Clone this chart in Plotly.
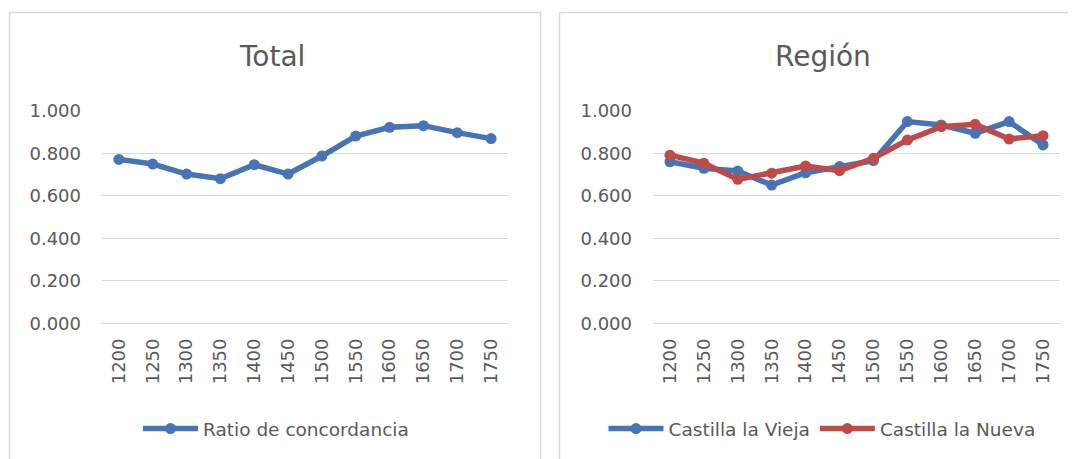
import plotly.graph_objects as go

W, H = 1076, 459
OFF = 8  # page body margin offsets the figure in the screenshot

years = ["1200", "1250", "1300", "1350", "1400", "1450",
         "1500", "1550", "1600", "1650", "1700", "1750"]
total = [0.772, 0.750, 0.703, 0.681, 0.747, 0.703,
         0.788, 0.882, 0.923, 0.931, 0.898, 0.870]
vieja = [0.761, 0.730, 0.717, 0.651, 0.709, 0.738,
         0.766, 0.950, 0.934, 0.895, 0.950, 0.840]
nueva = [0.792, 0.754, 0.678, 0.707, 0.741, 0.719,
         0.777, 0.863, 0.926, 0.937, 0.868, 0.884]

BLUE = "#4674B6"
RED = "#BE4B48"
GRID = "#d9d9d9"
TXT = "#595959"
FONT = "DejaVu Sans"


def px(x):
    return (x - OFF) / W


def py(y):
    return 1 - (y - OFF) / H


def series(x, y, name, color, xa, ya, legend):
    return go.Scatter(
        x=x, y=y, name=name, mode="lines+markers",
        xaxis=xa, yaxis=ya, legend=legend,
        line={"color": color, "width": 5.5},
        marker={"color": color, "size": 11},
    )


fig = go.Figure()
fig.add_trace(series(years, total, "Ratio de concordancia", BLUE, "x", "y", "legend"))
fig.add_trace(series(years, vieja, "Castilla la Vieja", BLUE, "x2", "y2", "legend2"))
fig.add_trace(series(years, nueva, "Castilla la Nueva", RED, "x2", "y2", "legend2"))

xcommon = dict(
    type="category", range=[-0.5, len(years) - 0.5], tickangle=-90,
    showgrid=False, showline=True, linecolor=GRID, linewidth=1, ticks="",
    ticklabelstandoff=7, tickfont={"family": FONT, "size": 18, "color": TXT},
    fixedrange=True, automargin=False,
)
ycommon = dict(
    range=[0, 1], dtick=0.2, tickformat=".3f", showgrid=True, gridcolor=GRID,
    gridwidth=1, zeroline=False, showline=False, ticks="", ticklabelstandoff=20,
    tickfont={"family": FONT, "size": 18, "color": TXT}, fixedrange=True,
    domain=[py(323.3), py(111)], automargin=False,
)

legend_style = dict(
    orientation="h", xanchor="center", yanchor="middle", y=py(429),
    font={"family": FONT, "size": 18.5, "color": TXT},
    bgcolor="rgba(0,0,0,0)", itemwidth=55, tracegroupgap=0,
)

fig.update_layout(
    width=W, height=H, autosize=False,
    margin={"l": 0, "r": 0, "t": 0, "b": 0, "pad": 0, "autoexpand": False},
    paper_bgcolor="white", plot_bgcolor="white",
    xaxis=dict(xcommon, domain=[px(102), px(508)], anchor="y"),
    yaxis=dict(ycommon, anchor="x"),
    xaxis2=dict(xcommon, domain=[px(653), px(1060)], anchor="y2"),
    yaxis2=dict(ycommon, anchor="x2"),
    legend=dict(legend_style, x=px(276)),
    legend2=dict(legend_style, x=px(822)),
    showlegend=True,
    shapes=[
        dict(type="rect", xref="paper", yref="paper",
             x0=px(9.5), x1=px(540.5), y0=-0.2, y1=py(12.5),
             line={"color": GRID, "width": 1.5}),
        dict(type="rect", xref="paper", yref="paper",
             x0=px(559.5), x1=px(1100), y0=-0.2, y1=py(12.5),
             line={"color": GRID, "width": 1.5}),
    ],
    annotations=[
        dict(text="Total", x=px(272), y=py(57), xref="paper", yref="paper",
             showarrow=False, xanchor="center", yanchor="middle",
             font={"family": FONT, "size": 28, "color": TXT}),
        dict(text="Región", x=px(823), y=py(57), xref="paper", yref="paper",
             showarrow=False, xanchor="center", yanchor="middle",
             font={"family": FONT, "size": 28, "color": TXT}),
    ],
)

fig.write_html("out.html")
